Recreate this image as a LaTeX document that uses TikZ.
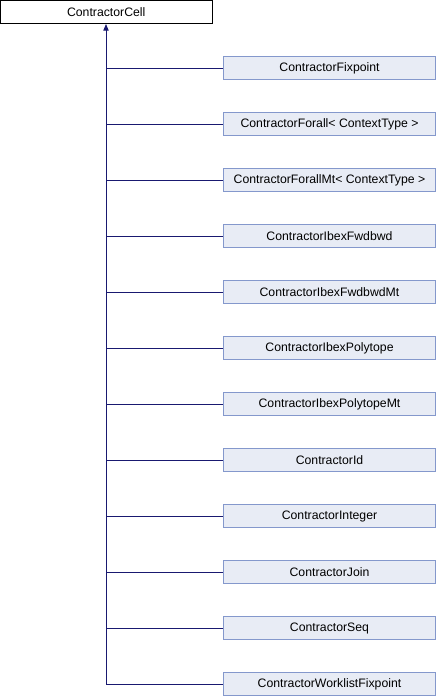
\documentclass[tikz,border=0pt]{standalone}
\usepackage{fontspec}
\setmainfont{Liberation Sans}
\usetikzlibrary{arrows.meta}
\definecolor{boxfill}{HTML}{E8ECF5}
\definecolor{boxline}{HTML}{8498CC}
\definecolor{edgecol}{HTML}{191970}
\tikzset{
  base/.style={draw=black, fill=white, line width=0.75pt, minimum width=211.5*0.75pt, minimum height=23*0.75pt, inner sep=0pt, font=\fontsize{9.2pt}{11pt}\selectfont},
  child/.style={draw=boxline, fill=boxfill, line width=0.75pt, minimum width=211.5*0.75pt, minimum height=23*0.75pt, inner sep=0pt, font=\fontsize{9.2pt}{11pt}\selectfont},
  edge/.style={draw=edgecol, line width=0.75pt},
}
\begin{document}
\begin{tikzpicture}[x=0.75pt, y=-0.75pt]
\useasboundingbox (0,0) rectangle (436,696);
\node[base] (cell) at (106.25,12) {ContractorCell};
\foreach \i/\name in {1/ContractorFixpoint, 2/{ContractorForall< ContextType >}, 3/{ContractorForallMt< ContextType >}, 4/ContractorIbexFwdbwd, 5/ContractorIbexFwdbwdMt, 6/ContractorIbexPolytope, 7/ContractorIbexPolytopeMt, 8/ContractorId, 9/ContractorInteger, 10/ContractorJoin, 11/ContractorSeq, 12/ContractorWorklistFixpoint}{
  \node[child] (c\i) at (329.5,{56*\i+12}) {\name};
  \coordinate (j\i) at (106,{56*\i+12});
  \draw[edge] (j\i) -- (c\i.west);
}
\draw[edge, -{Triangle[length=5pt,width=4pt]}] (j12) -- (cell.south -| j12);
\end{tikzpicture}
\end{document}
